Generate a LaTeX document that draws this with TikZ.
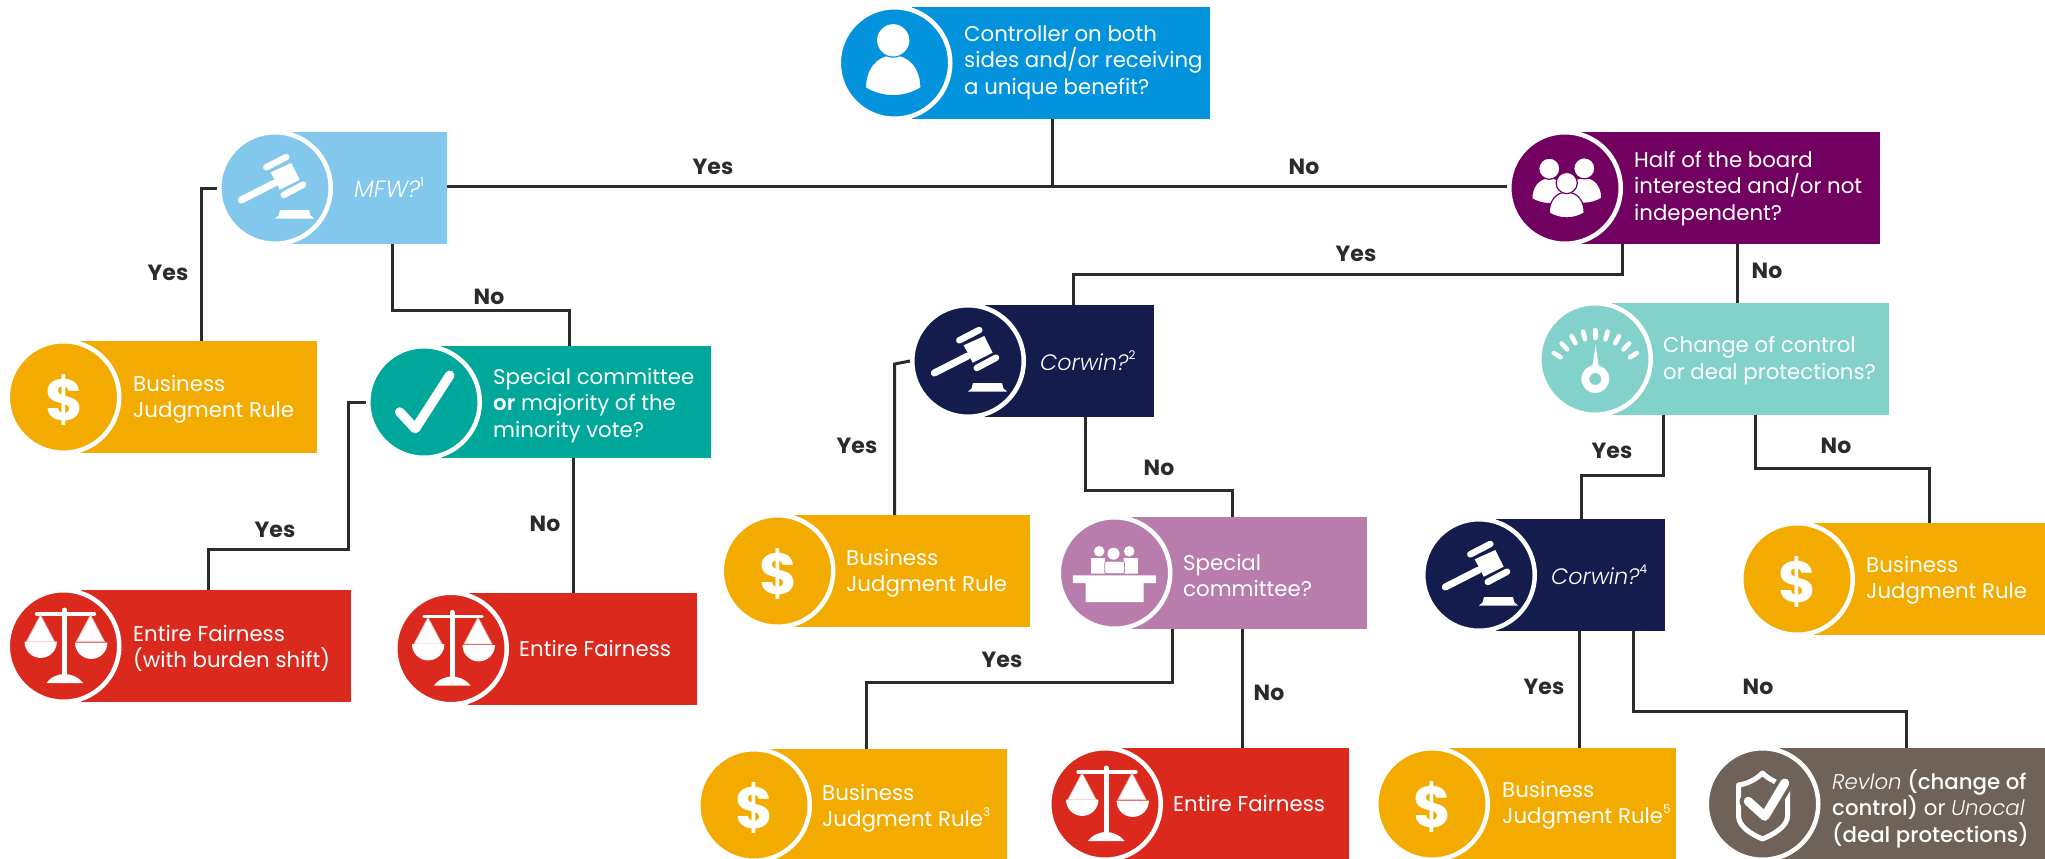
\documentclass[tikz,border=0pt]{standalone}
\usepackage{fontspec}
\setmainfont{Poppins}[ItalicFont={Poppins Light Italic}]
\newfontfamily\pmed{Poppins Medium}
\newfontfamily\psemi{Poppins SemiBold}
\definecolor{cblue}{HTML}{0393DD}
\definecolor{clight}{HTML}{82C8EC}
\definecolor{cpurple}{HTML}{720061}
\definecolor{cyel}{HTML}{F3AB00}
\definecolor{cteal}{HTML}{00A79B}
\definecolor{cred}{HTML}{DC291E}
\definecolor{cnavy}{HTML}{141C4E}
\definecolor{cmauve}{HTML}{B87DAD}
\definecolor{cmint}{HTML}{82D2CB}
\definecolor{cbrown}{HTML}{6E6259}
\definecolor{cline}{HTML}{2B2B2B}
\tikzset{
  conn/.style={draw=cline,line width=3pt,line cap=butt,line join=miter},
  lab/.style={font=\fontsize{22}{24}\selectfont\bfseries,text=cline,inner sep=0pt},
  boxtxt/.style={font=\fontsize{21.3}{26.5}\selectfont,text=white,align=left,anchor=west,inner sep=0pt},
  wl/.style={draw=white,line cap=round,line join=round},
}
\newcommand\supn[1]{\raisebox{.48em}{\upshape\fontsize{12}{12}\selectfont #1}}
\newcommand\bigit{\fontsize{23.5}{26.5}\selectfont\itshape}
% person: head centre at x,y ; scale s
\newcommand\persn[3]{%
  \begin{scope}[shift={(#1,#2)},scale=#3]
  \fill[white,draw=boxc,line width=1.2pt] (-27.7,47.7) .. controls (-28,30) and (-18,14.5) .. (0,14.5) .. controls (18,14.5) and (28,30) .. (27.7,47.7) .. controls (10,58) and (-10,58) .. (-27.7,47.7) -- cycle;
  \fill[white,draw=boxc,line width=1.2pt] (0,0) circle (16.8);
  \end{scope}}
\newcommand\iconperson{\persn{-1.3}{-22.7}{1}}
\newcommand\iconpeople{\persn{-15.7}{-19.3}{.63}\persn{19.3}{-19.7}{.63}\persn{1.7}{-5}{.63}}
\newcommand\icongavel{%
  \draw[wl,line width=7pt] (-33.7,12) -- (-0.3,-5);
  \fill[white] (-4.3,-15.7) -- (16.3,-25) -- (24.7,-8.3) -- (4.7,1.7) -- cycle;
  \draw[wl,line width=6.5pt] (-8.7,-20.7) -- (11.3,-31);
  \draw[wl,line width=6.5pt] (8.7,7) -- (28,-3.3);
  \fill[white] (0,30.5) -- (39,30.5) -- (35.5,27.5) -- (34,22) -- (5,22) -- (3.5,27.5) -- cycle;}
\newcounter{dollarnum}
\newcommand\icondollar{\node[font=\fontsize{58}{58}\selectfont\bfseries,text=white,inner sep=0pt] (d\thedollarnum) at (1,3) {\$};\stepcounter{dollarnum}}
\newcommand\iconcheck{\draw[wl,line width=9.5pt] (-24.3,10) -- (-8.7,26.7) -- (25.7,-26.7);}
\newcommand\iconscales{%
  \draw[wl,line width=5pt] (1,-36) -- (1,33);
  \draw[wl,line width=3.2pt] (-27,-32) -- (31,-32);
  \fill[white] (-17,37) .. controls (-12,30) and (-4,28) .. (1,28) .. controls (6,28) and (14,30) .. (19.5,37) -- cycle;
  \fill[white,draw=white!70!boxc,line width=.7pt] (-23,-31) -- (-37,-4.5) -- (-9,-4.5) -- cycle;
  \fill[white,draw=white!70!boxc,line width=.7pt] (27,-31) -- (13,-4.5) -- (41,-4.5) -- cycle;
  \fill[white] (-39,-4.3) arc[start angle=180,end angle=360,radius=16.2pt] -- cycle;
  \fill[white] (11.5,-3.3) arc[start angle=180,end angle=360,radius=16.2pt] -- cycle;}
\newcommand\iconcomm{%
  \fill[white] (-15.3,-21.7) circle (5.3) (14.7,-21.7) circle (5.3) (-1,-19.3) circle (6);
  \fill[white] (-23.3,-15) rectangle (-9.3,.7) (9,-15) rectangle (23.3,.7);
  \fill[white,draw=boxc,line width=.8pt,rounded corners=2pt] (-9.8,.7) -- (-9.8,-11.7) -- (10,-11.7) -- (10,.7) -- cycle;
  \fill[white] (-41.7,2.3) rectangle (41.3,10) (-29,10) rectangle (29,29);}
\newcommand\icongauge{%
  \foreach \a in {32,46.5,61,75.5,90,104.5,119,133.5,148}
    \draw[wl,line width=4.6pt] ($(.3,20)+(\a:41pt)$) -- ($(.3,20)+(\a:49pt)$);
  \fill[white] (.7,-14) -- (-2.5,6) -- (3.5,6) -- cycle;
  \fill[white,even odd rule] (.3,20) circle (14) (.3,20) circle (6);}
\newcommand\iconshield{%
  \draw[wl,line width=5pt] (0,-31) .. controls (-7,-24) and (-16,-20) .. (-24,-19) -- (-24,12) .. controls (-24,22) and (-12,30) .. (0,35) .. controls (12,30) and (25,22) .. (25,12) -- (25,-19) .. controls (16,-20) and (7,-24) .. (0,-31) -- cycle;
  \draw[draw=boxc,line width=17pt,line cap=round,line join=round] (-14.3,-2.7) -- (2.3,12.3) -- (22.3,-21);
  \draw[wl,line width=9pt] (-14.3,-2.7) -- (2.3,12.3) -- (22.3,-21);}
% name, cx, cy, right, colour, icon, text x, text y, text
\newcommand\decbox[9]{%
  \colorlet{boxc}{#5}%
  \node[fill=#5,inner sep=0pt,outer sep=0pt,minimum width={(#4-#2-17)*1pt},minimum height=112pt] (#1) at ({(#2+17+#4)/2},#3) {};
  \node[circle,fill=#5,draw=white,line width=4.5pt,inner sep=0pt,minimum size=111.5pt,outer sep=2.25pt] (#1c) at (#2,#3) {};
  \begin{scope}[shift={(#2,#3)}]#6\end{scope}
  \node[boxtxt] (#1t) at (#7,#8) {#9};}
\usetikzlibrary{calc}
\begin{document}
\begin{tikzpicture}[x=1pt,y=-1pt]
\path[use as bounding box,fill=white] (0,0) rectangle (2045,859);
\decbox{top}{894.5}{63}{1210}{cblue}{\iconperson}{964}{62.5}{Controller on both\\sides and/or receiving\\a unique benefit?}
\decbox{mfw}{275}{188}{447}{clight}{\icongavel}{354}{188}{\bigit MFW?\supn{1}}
\decbox{half}{1565}{188}{1880}{cpurple}{\iconpeople}{1634}{188.5}{Half of the board\\interested and/or not\\independent?}
\decbox{bjra}{63.5}{397}{317}{cyel}{\icondollar}{133}{399.5}{Business\\Judgment Rule}
\decbox{spor}{424}{402}{711}{cteal}{\iconcheck}{493}{405.5}{Special committee\\{\psemi or} majority of the\\minority vote?}
\decbox{efa}{63.5}{646}{351}{cred}{\iconscales}{133}{648.5}{Entire Fairness\\(with burden shift)}
\decbox{efb}{451}{648.5}{696.5}{cred}{\iconscales}{519}{648}{Entire Fairness}
\decbox{corb}{968}{361}{1154}{cnavy}{\icongavel}{1040}{361}{\fontsize{22.3}{26}\selectfont\itshape Corwin?\supn{2}}
\decbox{bjrb}{777.5}{571}{1030}{cyel}{\icondollar}{846}{573.5}{Business\\Judgment Rule}
\decbox{spc}{1114.5}{573}{1367}{cmauve}{\iconcomm}{1183}{575.5}{Special\\committee?}
\decbox{chg}{1595}{359}{1889}{cmint}{\icongauge}{1663}{360.5}{Change of control\\or deal protections?}
\decbox{cord}{1479}{575}{1665}{cnavy}{\icongavel}{1551}{575}{\fontsize{22.3}{26}\selectfont\itshape Corwin?\supn{4}}
\decbox{bjrc}{1797}{579}{2045}{cyel}{\icondollar}{1866}{580.5}{Business\\Judgment Rule}
\decbox{bjrd}{754}{805}{1007}{cyel}{\icondollar}{822}{808.5}{Business\\Judgment Rule\supn{3}}
\decbox{efc}{1105}{804}{1349}{cred}{\iconscales}{1173}{803}{Entire Fairness}
\decbox{bjre}{1432}{804}{1676}{cyel}{\icondollar}{1502}{805.5}{Business\\Judgment Rule\supn{5}}
\decbox{rev}{1762.5}{804}{2045}{cbrown}{\iconshield}{1832}{808.5}{{\itshape Revlon} {\pmed (change of}\\{\pmed control)} or {\itshape Unocal}\\{\pmed (deal protections)}}
% connectors
\coordinate (jct) at (1052.5,186.5);
\draw[conn] (1052.5,0 |- top.south) -- (jct);
\draw[conn] (mfw.east |- jct) -- (halfc.west |- jct);
\draw[conn] (mfwc.west) -- (201,188) -- (201,0 |- bjra.north);
\draw[conn] (392,0 |- mfw.south) -- (392,310.5) -- (569,310.5) -- (569,0 |- spor.north);
\draw[conn] (sporc.west) -- (348,402) -- (348,549.5) -- (208,549.5) -- (208,0 |- efa.north);
\draw[conn] (573,0 |- spor.south) -- (573,0 |- efb.north);
\draw[conn] (1622.7,0 |- half.south) -- (1622.7,274) -- (1073,274) -- (1073,0 |- corb.north);
\draw[conn] (1737,0 |- half.south) -- (1737,0 |- chg.north);
\draw[conn] (corbc.west) -- (894.7,364) -- (894.7,0 |- bjrb.north);
\draw[conn] (1085,0 |- corb.south) -- (1085,490) -- (1232,490) -- (1232,0 |- spc.north);
\draw[conn] (1172.3,0 |- spc.south) -- (1172.3,682) -- (866,682) -- (866,0 |- bjrd.north);
\draw[conn] (1242.7,0 |- spc.south) -- (1242.7,0 |- efc.north);
\draw[conn] (1663,0 |- chg.south) -- (1663,475) -- (1581,475) -- (1581,0 |- cord.north);
\draw[conn] (1755,0 |- chg.south) -- (1755,468) -- (1929,468) -- (1929,0 |- bjrc.north);
\draw[conn] (1579.5,0 |- cord.south) -- (1579.5,0 |- bjre.north);
\draw[conn] (1633,0 |- cord.south) -- (1633,711) -- (1906.7,711) -- (1906.7,0 |- rev.north);
% labels
\node[lab] (l1) at (713,167) {Yes};
\node[lab] (l2) at (1304,167) {No};
\node[lab] (l3) at (168,273) {Yes};
\node[lab] (l4) at (489,297) {No};
\node[lab] (l5) at (275,530) {Yes};
\node[lab] (l6) at (545,524) {No};
\node[lab] (l7) at (1356,254) {Yes};
\node[lab] (l8) at (1767,271) {No};
\node[lab] (l9) at (857,446) {Yes};
\node[lab] (l10) at (1159,468) {No};
\node[lab] (l11) at (1002,660) {Yes};
\node[lab] (l12) at (1269,693) {No};
\node[lab] (l13) at (1612,451) {Yes};
\node[lab] (l14) at (1836,446) {No};
\node[lab] (l15) at (1544,687) {Yes};
\node[lab] (l16) at (1758,687) {No};
\end{tikzpicture}
\end{document}
